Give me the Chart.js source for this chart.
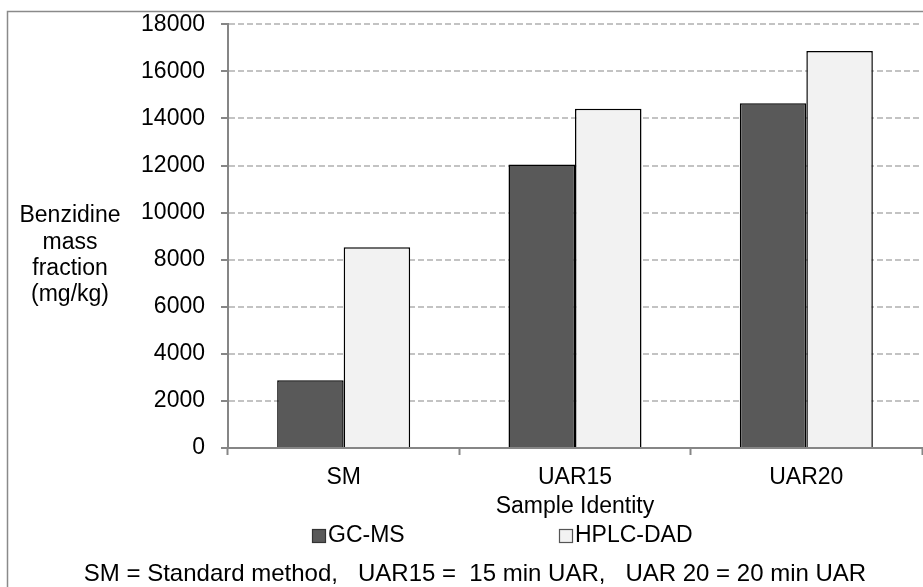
<!DOCTYPE html>
<html>
<head>
<meta charset="utf-8">
<script src="https://cdn.jsdelivr.net/npm/chart.js@4.4.1/dist/chart.umd.min.js"></script>
<style>
html, body { margin: 0; padding: 0; background: #ffffff; }
#wrap { width: 923px; height: 587px; position: relative; }
</style>
</head>
<body>
<div id="wrap"><canvas id="c" width="923" height="587"></canvas></div>
<script>
// ---- data ----
const categories = ['SM', 'UAR15', 'UAR20'];
const seriesNames = ['GC-MS', 'HPLC-DAD'];
const gcmsValues = [2880, 12040, 14650];
const hplcValues = [8530, 14410, 16870];
const yTickValues = [0, 2000, 4000, 6000, 8000, 10000, 12000, 14000, 16000, 18000];
const yTitleLines = ['Benzidine', 'mass', 'fraction', '(mg/kg)'];
const xTitle = 'Sample Identity';
const footnote = 'SM = Standard method,   UAR15 =  15 min UAR,   UAR 20 = 20 min UAR';

// ---- styles ----
const FONT = '"Liberation Sans", Arial, Helvetica, sans-serif';
const seriesFill = ['#595959', '#f2f2f2'];
const axisGray = '#868686';
const gridGray = '#c3c3c3';

const frameAndTextPlugin = {
  id: 'frameAndText',
  afterDraw(chart) {
    const ctx = chart.ctx;
    ctx.save();
    // outer frame (left and top edges visible)
    ctx.strokeStyle = '#8a8a8a';
    ctx.lineWidth = 1.5;
    ctx.beginPath();
    ctx.moveTo(7.5, 587);
    ctx.lineTo(7.5, 11.5);
    ctx.lineTo(923, 11.5);
    ctx.stroke();

    // horizontal y-axis title, stacked lines
    ctx.fillStyle = '#000';
    ctx.font = '23px ' + FONT;
    ctx.textAlign = 'center';
    ctx.textBaseline = 'alphabetic';
    const baselines = [222, 249, 275, 301];
    yTitleLines.forEach((t, i) => ctx.fillText(t, 70, baselines[i]));

    // legend
    const legendItems = [
      { box: 312, text: 328 },
      { box: 559, text: 575 }
    ];
    ctx.textAlign = 'left';
    ctx.font = '23px ' + FONT;
    chart.data.datasets.forEach((ds, i) => {
      const it = legendItems[i];
      ctx.fillStyle = ds.backgroundColor;
      ctx.fillRect(it.box, 529, 13, 13);
      ctx.strokeStyle = i === 0 ? '#333' : '#555';
      ctx.lineWidth = 1.2;
      ctx.strokeRect(it.box + 0.5, 529.5, 13, 13);
      ctx.fillStyle = '#000';
      ctx.fillText(ds.label, it.text, 542);
    });
    ctx.restore();
  }
};

const ctx = document.getElementById('c').getContext('2d');
new Chart(ctx, {
  type: 'bar',
  data: {
    labels: categories,
    datasets: [
      {
        label: seriesNames[0],
        data: gcmsValues,
        backgroundColor: seriesFill[0],
        borderColor: '#000',
        borderWidth: 1.5,
        categoryPercentage: 0.575,
        barPercentage: 1.0
      },
      {
        label: seriesNames[1],
        data: hplcValues,
        backgroundColor: seriesFill[1],
        borderColor: '#000',
        borderWidth: 1.5,
        categoryPercentage: 0.575,
        barPercentage: 1.0
      }
    ]
  },
  options: {
    responsive: false,
    animation: false,
    devicePixelRatio: 1,
    layout: { padding: { left: 28, right: 1, top: 24.3, bottom: 0 } },
    plugins: {
      legend: { display: false },
      tooltip: { enabled: false },
      title: {
        display: true,
        position: 'bottom',
        text: footnote,
        color: '#000',
        font: { family: FONT, size: 24, weight: 'normal', lineHeight: 1 },
        padding: { top: 44.5, bottom: 0.5 }
      }
    },
    scales: {
      x: {
        offset: true,
        grid: {
          display: true,
          drawOnChartArea: false,
          drawTicks: true,
          tickLength: 7,
          tickColor: axisGray,
          tickWidth: 2,
          offset: true
        },
        border: { display: true, color: axisGray, width: 2 },
        ticks: {
          color: '#000',
          padding: 11,
          font: { family: FONT, size: 23, lineHeight: 1 },
          maxRotation: 0
        },
        title: {
          display: true,
          text: xTitle,
          color: '#000',
          font: { family: FONT, size: 23, lineHeight: 1 },
          padding: { top: -5, bottom: 0 }
        }
      },
      y: {
        min: 0,
        max: 18000,
        afterBuildTicks(scale) {
          scale.ticks = yTickValues.map(v => ({ value: v }));
        },
        afterFit(scale) { scale.width = 200; },
        grid: {
          color: gridGray,
          lineWidth: 2,
          drawTicks: true,
          tickLength: 7,
          tickColor: axisGray,
          tickWidth: 2,
          tickBorderDash: []
        },
        border: { display: true, color: axisGray, width: 2, dash: [6, 3] },
        ticks: {
          color: '#000',
          padding: 16,
          font: { family: FONT, size: 23, lineHeight: 0.4 },
          callback: (v) => String(v)
        }
      }
    }
  },
  plugins: [frameAndTextPlugin]
});
</script>
</body>
</html>
